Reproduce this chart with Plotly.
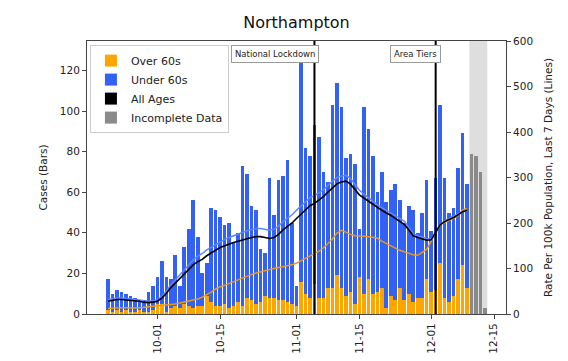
import pandas as pd
import plotly.graph_objects as go

# ---- data ----
start_date = "2020-09-20"
over60 = [2,1,2,1,2,1,1,2,1,1,2,
          5,5,1,3,4,3,5,4,3,4,
          4,9,6,4,4,5,3,4,6,4,
          8,7,5,6,9,8,8,7,7,6,
          5,4,16,10,8,15,8,8,13,13,
          19,13,9,11,5,18,10,17,10,11,
          13,3,9,7,13,7,10,6,8,8,
          17,11,12,25,8,6,9,17,24,13]
under60 = [15,9,10,10,8,8,7,5,6,10,12,
           13,21,17,14,25,11,28,38,53,34,
           16,16,46,47,44,39,42,31,34,69,
           61,46,46,26,21,59,41,59,61,70,
           40,10,110,72,70,78,79,62,52,90,
           95,89,68,68,69,24,92,74,68,49,
           57,52,52,57,43,38,43,45,32,42,
           49,30,55,78,59,44,43,55,65,51]
incomplete_dates = ["2020-12-10", "2020-12-11", "2020-12-12", "2020-12-13"]
incomplete = [79, 78, 70, 3]

rate_all = [28,30,32,32,31,30,30,28,26,25,26,
            28,35,45,58,68,78,88,100,108,115,
            120,128,134,140,146,150,154,157,160,163,
            166,168,170,170,168,166,168,175,185,192,
            200,210,220,230,238,243,250,258,268,278,
            286,290,292,286,275,262,255,248,240,234,
            228,222,217,210,203,197,185,172,168,165,
            162,163,180,196,203,207,212,218,225,228]
rate_over60 = [12,13,14,14,14,13,13,14,15,15,16,
               17,18,19,20,22,24,26,28,30,33,
               37,42,48,55,60,63,67,71,75,80,
               84,87,90,93,96,98,100,102,104,106,
               108,112,117,122,128,133,138,145,155,165,
               178,184,180,175,172,172,171,170,169,167,
               160,155,151,146,140,137,134,130,129,135,
               142,160,180,197,201,205,210,216,229,232]
rate_under60 = [32,34,35,35,34,33,33,31,29,28,29,
                31,39,50,64,75,86,97,110,119,127,
                133,141,147,153,158,164,168,172,175,180,
                183,186,188,188,186,184,186,193,203,210,
                218,228,238,248,256,260,266,273,283,292,
                300,303,305,298,286,272,264,256,247,240,
                234,228,223,216,210,204,190,176,172,169,
                166,165,180,195,205,210,215,220,225,226]

tick_dates = ["2020-10-01", "2020-10-15", "2020-11-01", "2020-11-15", "2020-12-01", "2020-12-15"]
tick_labels = ["10-01", "10-15", "11-01", "11-15", "12-01", "12-15"]
events = [("2020-11-05", "National Lockdown"), ("2020-12-02", "Area Tiers")]
incomplete_span = ("2020-12-09 12:00", "2020-12-13 12:00")

dates = pd.date_range(start_date, periods=len(over60))

ORANGE = "#FFA500"
BLUE = "#3461F5"
GRAY = "#8a8a8a"
FONT = "DejaVu Sans"

fig = go.Figure()
fig.add_trace(go.Bar(x=dates, y=over60, name="Over 60s", marker_color=ORANGE, marker_line_width=0))
fig.add_trace(go.Bar(x=dates, y=under60, name="Under 60s", marker_color=BLUE, marker_line_width=0))
# legend-only entry (zero height) so "All Ages" gets a patch like the reference
fig.add_trace(go.Bar(x=dates[:1], y=[0], name="All Ages", marker_color="black", marker_line_width=0,
                     hoverinfo="skip"))
fig.add_trace(go.Bar(x=pd.to_datetime(incomplete_dates), y=incomplete, name="Incomplete Data",
                     marker_color=GRAY, marker_line_width=0))

fig.add_trace(go.Scatter(x=dates, y=rate_under60, yaxis="y2", mode="lines",
                         line=dict(color="#5b86ff", width=1.5), showlegend=False))
fig.add_trace(go.Scatter(x=dates, y=rate_over60, yaxis="y2", mode="lines",
                         line=dict(color="#e59a1c", width=1.5), showlegend=False))
fig.add_trace(go.Scatter(x=dates, y=rate_all, yaxis="y2", mode="lines",
                         line=dict(color="black", width=1.6), showlegend=False))

shapes = [dict(type="rect", xref="x", yref="paper", x0=incomplete_span[0], x1=incomplete_span[1],
               y0=0, y1=1, fillcolor="#dedede", line=dict(width=0), layer="below")]
annotations = []
for d, label in events:
    shapes.append(dict(type="line", xref="x", yref="paper", x0=d, x1=d, y0=0, y1=1,
                       line=dict(color="black", width=2), layer="above"))
    annotations.append(dict(x=d, y=0.985, xref="x", yref="paper", text=label, showarrow=False,
                            xanchor="right", yanchor="top", xshift=5,
                            font=dict(size=8.5, color="#222", family=FONT),
                            bgcolor="white", bordercolor="#9a9a9a", borderwidth=1, borderpad=3))

axis_line = "#444444"
# the page body has an 8px margin, so the figure is sized/offset to land on the reference pixels
fig.update_layout(
    width=560, height=353,
    margin=dict(l=79, r=62, t=33, b=47, autoexpand=False),
    paper_bgcolor="white", plot_bgcolor="white",
    barmode="stack", bargap=0.2,
    font=dict(family=FONT, size=10.5, color="#222"),
    title=dict(text="Northampton", x=0.5, xref="paper", xanchor="center", y=0.96, yanchor="middle",
               font=dict(size=16, family=FONT, color="#111")),
    shapes=shapes, annotations=annotations,
    legend=dict(x=0.007, y=0.985, xanchor="left", yanchor="top", traceorder="normal",
                bgcolor="rgba(255,255,255,0.92)", bordercolor="#cccccc", borderwidth=1,
                font=dict(size=11, family=FONT), itemsizing="constant"),
    xaxis=dict(type="date", range=["2020-09-15 08:00", "2020-12-17 16:00"], automargin=False,
               tickvals=pd.to_datetime(tick_dates), ticktext=tick_labels, tickangle=-90,
               ticks="outside", ticklen=4, tickcolor=axis_line, showgrid=False,
               showline=True, linecolor=axis_line, linewidth=1, mirror=True,
               tickfont=dict(size=10.5)),
    yaxis=dict(range=[0, 134.5], dtick=20, ticks="outside", ticklen=4, tickcolor=axis_line,
               showgrid=False, zeroline=False, showline=True, linecolor=axis_line, linewidth=1,
               automargin=False,
               title=dict(text="Cases (Bars)", font=dict(size=10.5), standoff=10),
               tickfont=dict(size=10.5)),
    yaxis2=dict(overlaying="y", side="right", range=[0, 600], dtick=100, ticks="outside",
                ticklen=4, tickcolor=axis_line, showgrid=False, zeroline=False,
                showline=True, linecolor=axis_line, linewidth=1, automargin=False,
                title=dict(text="Rate Per 100k Population, Last 7 Days (Lines)", font=dict(size=10.5),
                           standoff=12),
                tickfont=dict(size=10.5)),
)

fig.write_html("out.html")
